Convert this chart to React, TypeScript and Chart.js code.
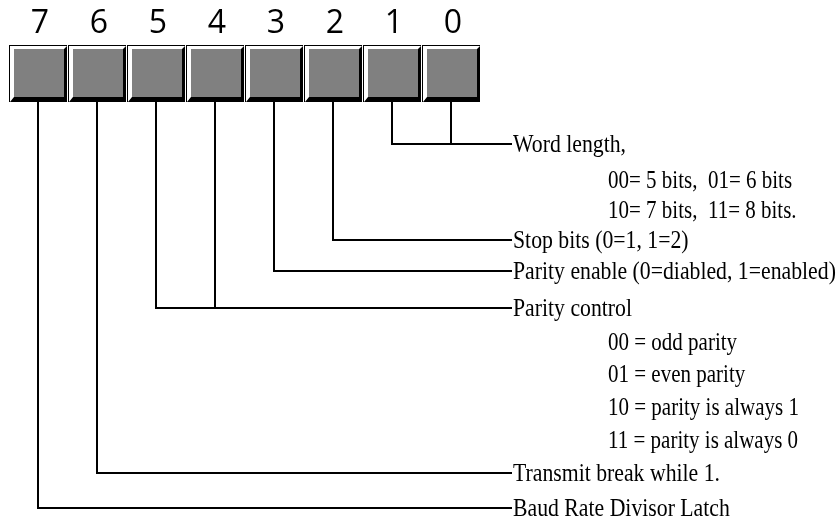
import React, { useEffect, useRef } from "react";
import { Chart, registerables } from "chart.js";

Chart.register(...registerables);

// ---- data ----
const bitNumbers = [7, 6, 5, 4, 3, 2, 1, 0];
const fieldBits = [[1, 0], [2], [3], [5, 4], [6], [7]];
const fieldLabels = [
  "Word length,",
  "Stop bits (0=1, 1=2)",
  "Parity enable (0=diabled, 1=enabled)",
  "Parity control",
  "Transmit break while 1.",
  "Baud Rate Divisor Latch",
];
const fieldRows = [144, 240, 271, 308, 473, 508];
const detailTexts = [
  "00= 5 bits,  01= 6 bits",
  "10= 7 bits,  11= 8 bits.",
  "00 = odd parity",
  "01 = even parity",
  "10 = parity is always 1",
  "11 = parity is always 0",
];
const detailRows = [180, 210, 342, 374, 407, 440];

// ---- layout (slot units on x, diagram units on y) ----
const W = 838;
const H = 521;
const SLOT_PX = 59;
const FIRST_PX = 38;
const X_MIN = -FIRST_PX / SLOT_PX;
const X_MAX = X_MIN + W / SLOT_PX;
const BOX_TOP = 45;
const BOX_BOTTOM = 102;
const LABEL_X = (513 - FIRST_PX) / SLOT_PX;
const DETAIL_X = (608 - FIRST_PX) / SLOT_PX;
const LINE_END_X = LABEL_X - 1 / SLOT_PX;

const slotOf = (bit: number) => bitNumbers.indexOf(bit);

function buildDatasets() {
  const ds: any[] = [];
  fieldBits.forEach((bits, i) => {
    const row = fieldRows[i];
    const left = slotOf(bits[0]);
    ds.push({
      data: [
        { x: left, y: BOX_BOTTOM },
        { x: left, y: row },
        { x: LINE_END_X, y: row },
      ],
    });
    for (let j = 1; j < bits.length; j++) {
      const s = slotOf(bits[j]);
      ds.push({
        data: [
          { x: s, y: BOX_BOTTOM },
          { x: s, y: row },
        ],
      });
    }
  });
  return ds.map((d) => ({
    ...d,
    showLine: true,
    borderColor: "#000",
    borderWidth: 2,
    pointRadius: 0,
    pointHoverRadius: 0,
    tension: 0,
    fill: false,
    borderCapStyle: "butt",
    borderJoinStyle: "miter",
  }));
}

const registerPlugin = {
  id: "registerBoxes",
  beforeDatasetsDraw(chart: any) {
    const ctx = chart.ctx as CanvasRenderingContext2D;
    const xs = chart.scales.x;
    const ys = chart.scales.y;
    const top = Math.round(ys.getPixelForValue(BOX_TOP));
    const bottom = Math.round(ys.getPixelForValue(BOX_BOTTOM));
    ctx.save();
    bitNumbers.forEach((bit, k) => {
      const cx = Math.round(xs.getPixelForValue(k));
      const L = cx - 29;
      const R = L + 58;
      const T = top;
      const B = bottom;
      const fl = L + 5;
      const ft = T + 4;
      const fr = R - 3;
      const fb = B - 5;
      ctx.fillStyle = "#000";
      ctx.fillRect(L, T, R - L, B - T);
      ctx.fillStyle = "#fff";
      ctx.beginPath();
      ctx.moveTo(L + 1, T + 1);
      ctx.lineTo(R, T + 1);
      ctx.lineTo(fr, ft);
      ctx.lineTo(fl, ft);
      ctx.lineTo(fl, fb);
      ctx.lineTo(L + 1, B);
      ctx.closePath();
      ctx.fill();
      ctx.fillStyle = "#808080";
      ctx.fillRect(fl, ft, fr - fl, fb - ft);
      ctx.fillStyle = "#000";
      ctx.font = '32px "Open Sans", "DejaVu Sans", sans-serif';
      ctx.textAlign = "center";
      ctx.textBaseline = "alphabetic";
      ctx.fillText(String(bit), cx + 2, 33);
    });
    ctx.restore();
  },
  afterDatasetsDraw(chart: any) {
    const ctx = chart.ctx as CanvasRenderingContext2D;
    const xs = chart.scales.x;
    const ys = chart.scales.y;
    const draw = (text: string, xv: number, yv: number, sx: number) => {
      const px = xs.getPixelForValue(xv);
      const py = ys.getPixelForValue(yv) + 7.5;
      ctx.save();
      ctx.translate(px, py);
      ctx.scale(sx, 1);
      ctx.fillStyle = "#000";
      ctx.font = '25px "Liberation Serif", "Times New Roman", serif';
      ctx.textAlign = "left";
      ctx.textBaseline = "alphabetic";
      ctx.fillText(text, 0, 0);
      ctx.restore();
    };
    fieldLabels.forEach((t, i) => draw(t, LABEL_X, fieldRows[i], 0.87));
    detailTexts.forEach((t, i) => draw(t, DETAIL_X, detailRows[i], 0.84));
  },
};

export default function App() {
  const ref = useRef<HTMLCanvasElement | null>(null);
  useEffect(() => {
    if (!ref.current) return;
    const chart = new Chart(ref.current, {
      type: "scatter",
      data: { datasets: buildDatasets() },
      options: {
        animation: false,
        responsive: false,
        devicePixelRatio: 1,
        events: [],
        layout: { padding: 0 },
        plugins: {
          legend: { display: false },
          tooltip: { enabled: false },
          title: { display: false },
        },
        scales: {
          x: { type: "linear", min: X_MIN, max: X_MAX, display: false },
          y: { type: "linear", min: 0, max: H, reverse: true, display: false },
        },
      } as any,
      plugins: [registerPlugin],
    });
    return () => chart.destroy();
  }, []);
  return (
    <div style={{ position: "fixed", left: 0, top: 0, width: W, height: H, background: "#fff" }}>
      <canvas ref={ref} width={W} height={H} style={{ display: "block" }} />
    </div>
  );
}
